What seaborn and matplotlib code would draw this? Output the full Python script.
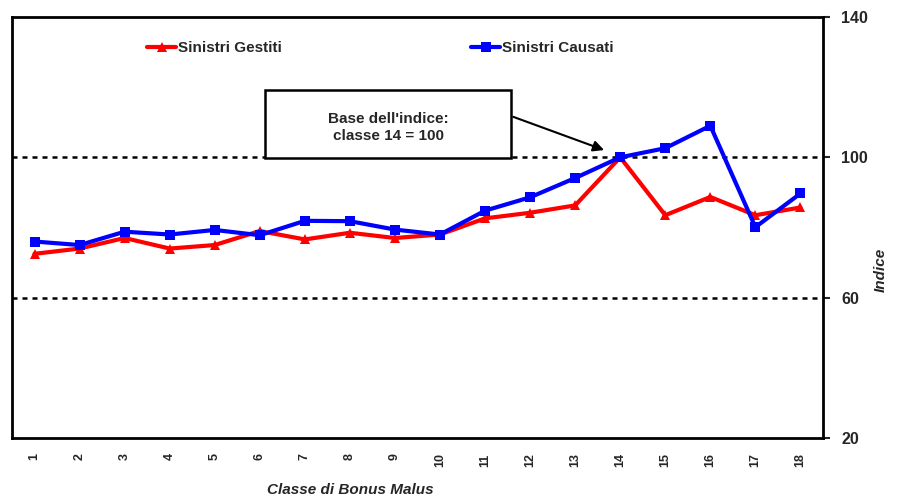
import pandas as pd
import matplotlib
matplotlib.use('Agg')
import matplotlib.pyplot as plt
import seaborn as sns

# -----------------------------
# Data
# -----------------------------
classes = list(range(1, 19))
gestiti = [72.5, 74.0, 77.0, 74.0, 75.0, 79.0, 76.6, 78.5, 77.0, 78.0,
           82.6, 84.2, 86.3, 100.0, 83.5, 88.7, 83.5, 85.7]
causati = [76.0, 75.0, 78.8, 78.0, 79.3, 77.8, 81.9, 81.8, 79.4, 78.0,
           84.8, 88.6, 94.1, 100.0, 102.6, 109.0, 80.1, 89.7]
y_ticks = [20, 60, 100, 140]

df = pd.DataFrame({
    'Classe': classes * 2,
    'Indice': gestiti + causati,
    'Serie': ['Sinistri Gestiti'] * 18 + ['Sinistri Causati'] * 18,
})

# -----------------------------
# Plot
# -----------------------------
sns.set_style('white')
plt.rcParams['font.family'] = ['Liberation Sans', 'DejaVu Sans']

fig = plt.figure(figsize=(9.14, 4.99), dpi=100)
ax = fig.add_axes([0.0131, 0.1222, 0.8873, 0.8438])

sns.lineplot(data=df, x='Classe', y='Indice', hue='Serie', style='Serie',
             palette={'Sinistri Gestiti': '#ff0000', 'Sinistri Causati': '#0000ff'},
             markers={'Sinistri Gestiti': '^', 'Sinistri Causati': 's'},
             dashes=False, linewidth=3, markersize=7.5, markeredgewidth=0,
             ax=ax, zorder=3)

ax.set_xlim(0.5, 18.5)
ax.set_ylim(20, 140)
ax.set_xticks(classes)
ax.set_xticklabels([str(c) for c in classes], rotation=90, fontsize=9, fontweight='bold')
ax.set_yticks(y_ticks)
ax.yaxis.tick_right()
ax.yaxis.set_label_position('right')
ax.tick_params(axis='y', direction='out', length=5, width=1.5, labelsize=11.5, pad=8, right=True)
ax.tick_params(axis='x', length=0, pad=11)
for lbl in ax.get_yticklabels():
    lbl.set_fontweight('bold')

for s in ax.spines.values():
    s.set_color('black')
    s.set_linewidth(2)

for yv in [60, 100]:
    ax.axhline(yv, color='black', linestyle=(0, (2, 2)), linewidth=1.8, zorder=1)

ax.set_xlabel('Classe di Bonus Malus', fontstyle='italic', fontweight='bold', fontsize=11)
ax.xaxis.set_label_coords(0.417, -0.107)
ax.set_ylabel('Indice', fontstyle='italic', fontweight='bold', fontsize=11, rotation=90)
ax.yaxis.set_label_coords(1.062, 0.40)

# annotation box and arrow
ax.annotate('', xy=(13.7, 101.8), xytext=(11.57, 111.8),
            arrowprops=dict(arrowstyle='-|>', color='black', lw=1.5, mutation_scale=16),
            zorder=5)
ax.text(8.85, 108.4, "Base dell'indice:\nclasse 14 = 100", ha='center', va='center',
        fontsize=11, fontweight='bold', linespacing=1.3, zorder=6)
rect = plt.Rectangle((6.12, 99.7), 5.45, 19.4, facecolor='white',
                     edgecolor='black', linewidth=1.8, zorder=4)
ax.add_patch(rect)

leg = ax.legend(loc='upper left', bbox_to_anchor=(0.15, 0.975), ncol=2, frameon=False,
                columnspacing=12.4, handlelength=1.9, handletextpad=0.1,
                prop={'weight': 'bold', 'size': 11})

plt.savefig('out.png', dpi=100)
